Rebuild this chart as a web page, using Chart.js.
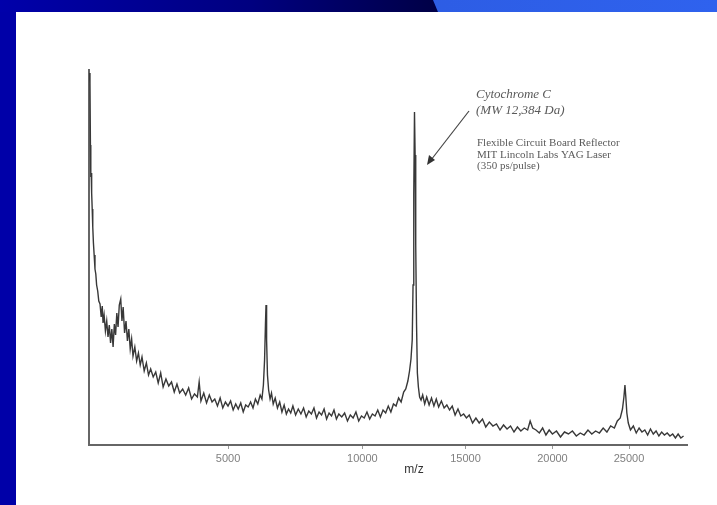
<!DOCTYPE html>
<html lang="en">

<head>
    <meta charset="UTF-8">
    <script src="https://cdn.jsdelivr.net/npm/chart.js@4/dist/chart.umd.min.js"></script>
    <title>Cytochrome C spectrum</title>
    <style>
        body { margin: 0; background: #fff; }
        .frame { position: relative; width: 717px; height: 505px; overflow: hidden; background: #fff; }
        .left-bar { position: absolute; left: 0; top: 0; width: 16px; height: 505px; background: #0000a8; }
        .top-bar { position: absolute; left: 0; top: 0; width: 717px; height: 12px;
            background: linear-gradient(to right, #0000aa 0%, #000080 35%, #000048 60%, #000040 100%); }
        .top-light { position: absolute; left: 0; top: 0; width: 717px; height: 12px;
            background: linear-gradient(to right, #2a55d6 0%, #2f62ee 100%);
            clip-path: polygon(433px 0, 717px 0, 717px 12px, 438px 12px); }
        canvas { position: absolute; left: 0; top: 0; }
    </style>
</head>

<body>
    <div class="frame">
        <div class="left-bar"></div>
        <div class="top-bar"></div>
        <div class="top-light"></div>
        <canvas id="myChart" width="717" height="505"></canvas>
    </div>

    <script>
        // m/z of each sample and intensity (arbitrary units)
        const mz = [
            1640, 1650, 1658, 1665, 1672, 1680, 1690, 1700, 1712, 1725, 1740, 1755, 1770, 1790, 1810, 1833,
            1855, 1875, 1890, 1910, 1935, 1960, 1985, 2010, 2035, 2060, 2085, 2110, 2135, 2160, 2185, 2210,
            2240, 2265, 2290, 2320, 2350, 2380, 2410, 2440, 2470, 2500, 2540, 2580, 2620, 2660, 2700, 2750,
            2800, 2850, 2900, 2960, 3020, 3080, 3140, 3200, 3270, 3340, 3410, 3480, 3550, 3620, 3700, 3780,
            3860, 3940, 4020, 4100, 4150, 4200, 4280, 4360, 4440, 4520, 4600, 4680, 4760, 4840, 4920, 5000,
            5080, 5160, 5240, 5320, 5400, 5480, 5560, 5640, 5720, 5800, 5880, 5960, 6040, 6100, 6150, 6190,
            6220, 6240, 6260, 6290, 6330, 6380, 6430, 6490, 6560, 6640, 6720, 6800, 6880, 6960, 7040, 7120,
            7200, 7300, 7400, 7500, 7600, 7700, 7800, 7900, 8000, 8100, 8200, 8300, 8400, 8500, 8600, 8700,
            8800, 8900, 9000, 9120, 9240, 9360, 9480, 9600, 9720, 9840, 9960, 10080, 10200, 10320, 10440, 10560,
            10680, 10800, 10920, 11040, 11160, 11280, 11400, 11520, 11640, 11760, 11880, 11980, 12080, 12160, 12230, 12290,
            12330, 12365, 12400, 12430, 12460, 12500, 12540, 12590, 12650, 12720, 12800, 12900, 13000, 13120, 13240, 13360,
            13480, 13600, 13740, 13880, 14020, 14160, 14300, 14450, 14600, 14750, 14900, 15050, 15200, 15380, 15560, 15740,
            15920, 16100, 16300, 16500, 16700, 16900, 17100, 17300, 17500, 17700, 17900, 18100, 18300, 18500, 18650, 18800,
            19000, 19200, 19400, 19600, 19800, 20000, 20250, 20500, 20750, 21000, 21250, 21500, 21750, 22000, 22250, 22500,
            22750, 23000, 23250, 23500, 23750, 24000, 24200, 24400, 24550, 24650, 24720, 24780, 24850, 24950, 25100, 25300,
            25500, 25700, 25900, 26100, 26300, 26500, 26700, 26900, 27100, 27300, 27500, 27700, 27900, 28100, 28300, 28500,
            28700, 28900
        ];
        const intensity = [
            372, 362, 300, 268, 272, 252, 236, 218, 202, 190, 176, 171, 160, 154, 144, 141,
            128, 139, 122, 130, 114, 124, 108, 120, 102, 116, 98, 121, 110, 132, 118, 140,
            146, 124, 138, 112, 124, 104, 116, 96, 106, 89, 98, 84, 92, 80, 88, 74,
            82, 70, 76, 68, 73, 62, 72, 58, 66, 59, 63, 53, 61, 52, 56, 50,
            57, 46, 51, 48, 63, 44, 52, 42, 50, 43, 46, 39, 47, 37, 43, 39,
            44, 35, 41, 36, 42, 33, 40, 38, 43, 37, 46, 41, 50, 46, 60, 85,
            120, 140, 105, 70, 55, 46, 52, 41, 47, 37, 43, 33, 40, 31, 36, 32,
            39, 30, 36, 31, 37, 28, 34, 31, 37, 27, 33, 30, 36, 26, 32, 29,
            35, 26, 31, 28, 32, 24, 30, 27, 33, 24, 29, 27, 33, 26, 31, 29,
            35, 28, 35, 32, 39, 33, 41, 39, 47, 43, 53, 56, 64, 74, 86, 105,
            160, 250, 333, 290, 200, 120, 72, 58, 48, 45, 50, 41, 48, 40, 47, 39,
            46, 38, 44, 37, 40, 35, 39, 30, 36, 29, 31, 27, 30, 22, 27, 22,
            26, 18, 23, 19, 21, 15, 20, 16, 19, 13, 18, 14, 17, 15, 24, 17,
            15, 12, 17, 10, 15, 11, 14, 8, 13, 11, 14, 9, 12, 10, 15, 11,
            14, 12, 17, 13, 19, 17, 24, 27, 36, 48, 60, 48, 32, 22, 15, 19,
            12, 17, 13, 15, 10, 16, 11, 14, 9, 13, 10, 12, 9, 11, 7, 11,
            7, 9
        ];
        const tickLabels = [5000, 10000, 15000, 20000, 25000];
        // the m/z axis is time-of-flight, so it is spaced by the square root of m/z
        const mzMin = 1633;
        const mzMax = 29156;

        const notes = {
            id: 'notes',
            afterDraw(chart) {
                const ctx = chart.ctx;
                ctx.save();
                ctx.fillStyle = '#5a5a5a';
                ctx.textBaseline = 'alphabetic';
                ctx.font = 'italic 13px "Liberation Serif", "DejaVu Serif", serif';
                ctx.fillText('Cytochrome C', 476, 98);
                ctx.fillText('(MW 12,384 Da)', 476, 114);
                ctx.font = '11px "Liberation Serif", "DejaVu Serif", serif';
                ctx.fillText('Flexible Circuit Board Reflector', 477, 146);
                ctx.fillText('MIT Lincoln Labs YAG Laser', 477, 158);
                ctx.fillText('(350 ps/pulse)', 477, 169);

                // arrow pointing at the main peak
                ctx.strokeStyle = '#444';
                ctx.lineWidth = 1.2;
                ctx.beginPath();
                ctx.moveTo(469, 111);
                ctx.lineTo(431, 160);
                ctx.stroke();
                ctx.fillStyle = '#333';
                ctx.beginPath();
                ctx.moveTo(427, 165);
                ctx.lineTo(429, 155);
                ctx.lineTo(435, 160);
                ctx.closePath();
                ctx.fill();

                ctx.fillStyle = '#333';
                ctx.font = '12px "Liberation Sans", Arial, sans-serif';
                ctx.textAlign = 'center';
                ctx.textBaseline = 'middle';
                ctx.fillText('m/z', 414, 470);
                ctx.restore();
            }
        };

        const points = mz.map((m, i) => ({ x: Math.sqrt(m), y: intensity[i] }));

        const chart = new Chart(document.getElementById('myChart'), {
            type: 'line',
            data: {
                datasets: [{
                    data: points,
                    borderColor: '#383838',
                    borderWidth: 1.4,
                    pointRadius: 0,
                    tension: 0,
                    fill: false
                }]
            },
            options: {
                responsive: false,
                animation: false,
                layout: { padding: { left: 89, right: 30, top: 70, bottom: 0 } },
                plugins: { legend: { display: false }, tooltip: { enabled: false } },
                scales: {
                    x: {
                        type: 'linear',
                        min: Math.sqrt(mzMin),
                        max: Math.sqrt(mzMax),
                        afterBuildTicks: axis => {
                            axis.ticks = tickLabels.map(v => ({ value: Math.sqrt(v) }));
                        },
                        afterFit: axis => { axis.height = 60; },
                        ticks: {
                            autoSkip: false,
                            maxRotation: 0,
                            padding: 3,
                            color: '#808080',
                            font: { family: '"Liberation Sans", Arial, sans-serif', size: 11 },
                            callback: v => String(Math.round(v * v))
                        },
                        grid: { display: true, drawOnChartArea: false, drawTicks: true, tickLength: 4, color: '#999' },
                        border: { display: true, color: '#666', width: 2 }
                    },
                    y: {
                        min: 0,
                        max: 375,
                        ticks: { display: false },
                        grid: { display: false },
                        afterFit: axis => { axis.width = 0; },
                        border: { display: true, color: '#666', width: 2 }
                    }
                }
            },
            plugins: [notes]
        });
    </script>
</body>

</html>
